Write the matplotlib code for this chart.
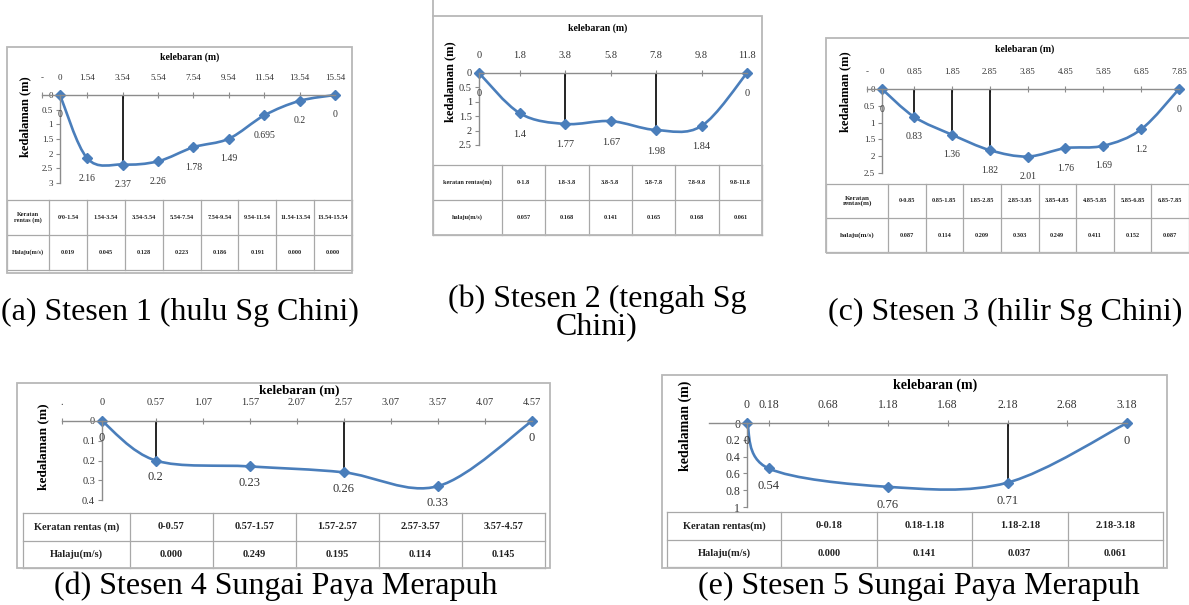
import numpy as np
import matplotlib
matplotlib.use('Agg')
import matplotlib.pyplot as plt
from matplotlib.path import Path
from matplotlib.patches import PathPatch, Rectangle

plt.rcParams['font.family'] = ['Liberation Serif', 'DejaVu Serif']

W, H = 1189, 605
BLUE = '#4a7ebb'
AXC = '#8c8c8c'
TBL = '#a8a8a8'

# Stesen 1 (hulu Sg Chini)
a_x = [0, 1.54, 3.54, 5.54, 7.54, 9.54, 11.54, 13.54, 15.54]
a_depth = [0, 2.16, 2.37, 2.26, 1.78, 1.49, 0.695, 0.2, 0]
a_vlines = [3.54]
a_xticks = [0, 1.54, 3.54, 5.54, 7.54, 9.54, 11.54, 13.54, 15.54]
a_yticks = [0, 0.5, 1, 1.5, 2, 2.5, 3]
a_sections = ['0/0-1.54', '1.54-3.54', '3.54-5.54', '5.54-7.54', '7.54-9.54',
              '9.54-11.54', '11.54-13.54', '13.54-15.54']
a_speed = ['0.019', '0.045', '0.128', '0.223', '0.186', '0.191', '0.000', '0.000']

# Stesen 2 (tengah Sg Chini)
b_x = [0, 1.8, 3.8, 5.8, 7.8, 9.8, 11.8]
b_depth = [0, 1.4, 1.77, 1.67, 1.98, 1.84, 0]
b_vlines = [3.8, 7.8]
b_xticks = [0, 1.8, 3.8, 5.8, 7.8, 9.8, 11.8]
b_yticks = [0, 0.5, 1, 1.5, 2, 2.5]
b_sections = ['0-1.8', '1.8-3.8', '3.8-5.8', '5.8-7.8', '7.8-9.8', '9.8-11.8']
b_speed = ['0.057', '0.168', '0.141', '0.165', '0.168', '0.061']

# Stesen 3 (hilir Sg Chini)
c_x = [0, 0.85, 1.85, 2.85, 3.85, 4.85, 5.85, 6.85, 7.85]
c_depth = [0, 0.83, 1.36, 1.82, 2.01, 1.76, 1.69, 1.2, 0]
c_vlines = [0.85, 1.85, 2.85]
c_xticks = [0, 0.85, 1.85, 2.85, 3.85, 4.85, 5.85, 6.85, 7.85]
c_yticks = [0, 0.5, 1, 1.5, 2, 2.5]
c_sections = ['0-0.85', '0.85-1.85', '1.85-2.85', '2.85-3.85', '3.85-4.85',
              '4.85-5.85', '5.85-6.85', '6.85-7.85']
c_speed = ['0.087', '0.114', '0.209', '0.303', '0.249', '0.411', '0.152', '0.087']

# Stesen 4 Sungai Paya Merapuh
d_x = [0, 0.57, 1.57, 2.57, 3.57, 4.57]
d_depth = [0, 0.2, 0.23, 0.26, 0.33, 0]
d_vlines = [0.57, 2.57]
d_xticks = [0, 0.57, 1.07, 1.57, 2.07, 2.57, 3.07, 3.57, 4.07, 4.57]
d_yticks = [0, 0.1, 0.2, 0.3, 0.4]
d_sections = ['0-0.57', '0.57-1.57', '1.57-2.57', '2.57-3.57', '3.57-4.57']
d_speed = ['0.000', '0.249', '0.195', '0.114', '0.145']

# Stesen 5 Sungai Paya Merapuh
e_x = [0, 0.18, 1.18, 2.18, 3.18]
e_depth = [0, 0.54, 0.76, 0.71, 0]
e_vlines = [2.18]
e_xticks = [0, 0.18, 0.68, 1.18, 1.68, 2.18, 2.68, 3.18]
e_yticks = [0, 0.2, 0.4, 0.6, 0.8, 1]
e_sections = ['0-0.18', '0.18-1.18', '1.18-2.18', '2.18-3.18']
e_speed = ['0.000', '0.141', '0.037', '0.061']

fig = plt.figure(figsize=(W / 100, H / 100), dpi=100)


def px_axes(x0, y0, x1, y1):
    return fig.add_axes([x0 / W, 1 - y1 / H, (x1 - x0) / W, (y1 - y0) / H])


def ftext(x, y, s, **kw):
    fig.text(x / W, 1 - y / H, s, ha='center', va='center', **kw)


def frame(x0, y0, x1, y1):
    fig.add_artist(Rectangle((x0 / W, 1 - y1 / H), (x1 - x0) / W, (y1 - y0) / H,
                             transform=fig.transFigure, fill=False, ec='#b8b8b8', lw=1.3))


def smooth_path(x, y):
    # smoothed line like the spreadsheet chart: bezier segments through the points
    p = np.column_stack([x, y]).astype(float)
    ext = np.vstack([p[0], p, p[-1]])
    verts = [p[0]]
    codes = [Path.MOVETO]
    for i in range(len(p) - 1):
        p0, p1, p2, p3 = ext[i], ext[i + 1], ext[i + 2], ext[i + 3]
        verts += [p1 + (p2 - p0) / 6, p2 - (p3 - p1) / 6, p2]
        codes += [Path.CURVE4] * 3
    return Path(verts, codes)


def chart(box, xs, depth, vlines, xticks, yticks, xleft, lead, fs, lab_fs, lab_off, pad=7):
    px0, px1, py0, py1 = box
    xmax = xs[-1]
    ymax = yticks[-1]
    scale = (px1 - px0) / xmax
    ax = px_axes(px0 + xleft * scale, py0, px1, py1)
    ax.set_xlim(xleft, xmax)
    ax.set_ylim(ymax, 0)
    ax.patch.set_alpha(0)
    for s in ['bottom', 'right']:
        ax.spines[s].set_visible(False)
    ax.spines['left'].set_position(('data', 0))
    for s in ['top', 'left']:
        ax.spines[s].set_color(AXC)
        ax.spines[s].set_linewidth(1.0)
    ax.xaxis.tick_top()
    ticks = list(xticks)
    labels = ['%g' % t for t in xticks]
    if lead:
        ticks = [xleft] + ticks
        labels = [lead] + labels
    ax.set_xticks(ticks, labels)
    ax.set_yticks(yticks, ['%g' % t for t in yticks])
    ax.tick_params(axis='x', direction='inout', length=4, color=AXC, pad=pad, labelsize=fs,
                   labelcolor='#333333')
    ax.tick_params(axis='y', direction='out', length=3, color=AXC, pad=2, labelsize=fs,
                   labelcolor='#333333')
    vd = [depth[xs.index(v)] for v in vlines]
    ax.vlines(vlines, 0, vd, color='black', lw=1.2)
    ax.add_patch(PathPatch(smooth_path(xs, depth), fill=False, ec=BLUE, lw=1.9,
                           clip_on=False, capstyle='round'))
    ax.plot(xs, depth, 'D', color=BLUE, ms=5, clip_on=False)
    for x, d in zip(xs, depth):
        ax.annotate('%g' % d, (x, d), xytext=(0, -lab_off), textcoords='offset pixels',
                    ha='center', va='center', fontsize=lab_fs, color='#333333')
    return ax


def table(box, hw, headers, sections, speeds, fs_head, fs_cell):
    x0, y0, x1, y1 = box
    w, h = x1 - x0, y1 - y0
    ax = px_axes(x0, y0, x1, y1)
    ax.set_xlim(0, w)
    ax.set_ylim(h, 0)
    ax.axis('off')
    n = len(sections)
    cw = (w - hw) / n
    edges = [0, hw] + [hw + cw * (i + 1) for i in range(n)]
    for e in edges:
        ax.plot([e, e], [0, h], color=TBL, lw=0.9, clip_on=False)
    for yy in [0, h / 2, h]:
        ax.plot([0, w], [yy, yy], color=TBL, lw=0.9, clip_on=False)
    for row, (head, vals) in enumerate([(headers[0], sections), (headers[1], speeds)]):
        yc = h / 4 + row * h / 2
        ax.text(hw / 2, yc, head, ha='center', va='center', fontsize=fs_head,
                fontweight='bold', color='#222222', linespacing=1.0)
        for i, v in enumerate(vals):
            ax.text(hw + cw * (i + 0.5), yc, v, ha='center', va='center',
                    fontsize=fs_cell, fontweight='bold', color='#222222')


CAP = 23

# panel (a)
frame(7, 47, 352, 273)
chart((60, 335, 95, 183), a_x, a_depth, a_vlines, a_xticks, a_yticks, -1.0, '-', 6.5, 7, 20)
ftext(190, 57, 'kelebaran (m)', fontsize=7, fontweight='bold')
ftext(25, 117, 'kedalaman (m)', fontsize=9, fontweight='bold', rotation=90)
table((7, 200, 352, 270), 42, ['Keratan\nrentas (m)', 'Halaju(m/s)'], a_sections, a_speed, 4.5, 4.5)
ftext(180, 312, '(a) Stesen 1 (hulu Sg Chini)', fontsize=CAP)

# panel (b)
frame(433, 16, 762, 235)
fig.add_artist(plt.Line2D([433 / W, 433 / W], [1, 1 - 16 / H], color='#b8b8b8', lw=1.3))
chart((479, 747, 73, 145), b_x, b_depth, b_vlines, b_xticks, b_yticks, 0, None, 7.5, 7.5, 21)
ftext(598, 28, 'kelebaran (m)', fontsize=7, fontweight='bold')
ftext(450, 82, 'kedalaman (m)', fontsize=9, fontweight='bold', rotation=90)
table((433, 165, 762, 235), 69, ['keratan rentas(m)', 'halaju(m/s)'], b_sections, b_speed, 4.5, 4.5)
ftext(597, 313, '(b) Stesen 2 (tengah Sg\nChini)', fontsize=CAP, linespacing=0.95,
      multialignment='center')

# panel (c)
frame(826, 38, 1195, 253)
chart((882, 1179, 89, 173), c_x, c_depth, c_vlines, c_xticks, c_yticks, -0.4, '-', 6.5, 7, 20)
ftext(1025, 49, 'kelebaran (m)', fontsize=7, fontweight='bold')
ftext(845, 92, 'kedalaman (m)', fontsize=9, fontweight='bold', rotation=90)
table((826, 184, 1189, 252), 62, ['Keratan\nrentas(m)', 'halaju(m/s)'], c_sections, c_speed, 5, 4.5)
ftext(1005, 312, '(c) Stesen 3 (hilir Sg Chini)', fontsize=CAP)

# panel (d)
frame(17, 383, 550, 568)
chart((102, 532, 421, 500), d_x, d_depth, d_vlines, d_xticks, d_yticks, -0.43, '.', 7.5, 9, 17, pad=8)
ftext(299, 390, 'kelebaran (m)', fontsize=9.5, fontweight='bold')
ftext(43, 447, 'kedalaman (m)', fontsize=9.5, fontweight='bold', rotation=90)
table((23, 513, 545, 568), 107, ['Keratan rentas (m)', 'Halaju(m/s)'], d_sections, d_speed, 7.5, 7.5)
ftext(276, 586, '(d) Stesen 4 Sungai Paya Merapuh', fontsize=CAP)

# panel (e)
frame(662, 375, 1167, 568)
chart((747, 1127, 423, 507), e_x, e_depth, e_vlines, e_xticks, e_yticks, -0.32, None, 8.5, 9, 18)
ftext(935, 385, 'kelebaran (m)', fontsize=10, fontweight='bold')
ftext(685, 426, 'kedalaman (m)', fontsize=10, fontweight='bold', rotation=90)
table((667, 512, 1163, 567), 114, ['Keratan rentas(m)', 'Halaju(m/s)'], e_sections, e_speed, 7.5, 7.5)
ftext(919, 586, '(e) Stesen 5 Sungai Paya Merapuh', fontsize=CAP)

fig.savefig('out.png', dpi=100)
